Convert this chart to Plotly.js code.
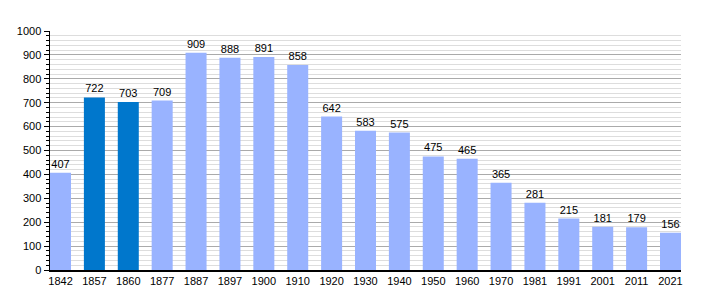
<!DOCTYPE html>
<html><head><meta charset="utf-8">
<script src="https://cdn.plot.ly/plotly-3.0.1.min.js"></script>
<style>html,body{margin:0;padding:0;background:#fff}#c{width:710px;height:300px}</style>
</head><body><div id="c"></div>
<script>
const years = ['1842','1857','1860','1877','1887','1897','1900','1910','1920','1930','1940','1950','1960','1970','1981','1991','2001','2011','2021'];
const population = [407,722,703,709,909,888,891,858,642,583,575,475,465,365,281,215,181,179,156];
const highlighted = ['1857','1860'];
const colors = years.map(y => highlighted.includes(y) ? '#0077cc' : '#99b3ff');
Plotly.newPlot('c', [{
  type:'bar', x:years, y:population, width:0.62,
  marker:{color:colors, line:{width:0}},
  text:population.map(String), textposition:'outside', cliponaxis:false,
  textfont:{family:'Liberation Sans, Arial, sans-serif', size:11, color:'#000'},
  hoverinfo:'none'
}], {
  width:710, height:300,
  margin:{l:50, r:29, t:31, b:30},
  paper_bgcolor:'#fff', plot_bgcolor:'#fff',
  showlegend:false,
  font:{family:'Liberation Sans, Arial, sans-serif', size:11, color:'#000'},
  xaxis:{type:'category', range:[-0.31, 18.31], showgrid:false, showline:true, linecolor:'#000', linewidth:1.5,
         ticks:'', tickfont:{size:11}, fixedrange:true},
  yaxis:{range:[0,1000], dtick:100, showgrid:true, gridcolor:'#aaaaaa', gridwidth:1,
         showline:true, linecolor:'#000', linewidth:1.5, ticks:'outside', ticklen:5, tickcolor:'#000',
         tickfont:{size:11}, zeroline:false,
         minor:{dtick:20, showgrid:true, gridcolor:'#dddddd', gridwidth:1, ticks:'outside', ticklen:3, tickcolor:'#000'}},
  bargap:0.38
}, {staticPlot:true});
</script></body></html>
